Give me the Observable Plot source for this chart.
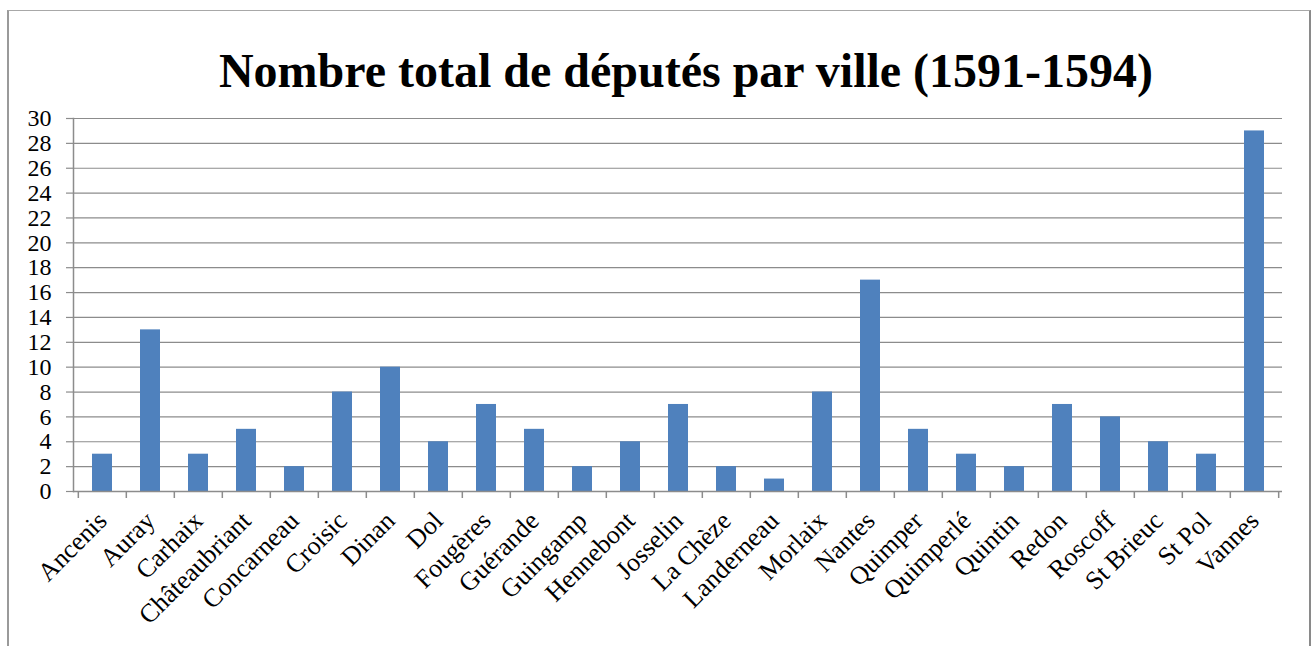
<!DOCTYPE html>
<html>
<head>
<meta charset="utf-8">
<script src="https://cdn.jsdelivr.net/npm/d3@7"></script>
<script src="https://cdn.jsdelivr.net/npm/@observablehq/plot@0.6"></script>
<style>
  html, body { margin: 0; padding: 0; background: #fff; overflow: hidden; width: 1312px; height: 646px; }
  #frame { position: absolute; left: 7px; top: 10px; width: 1300px; height: 700px;
           border-left: 2px solid #9a9a9a; border-top: 1px solid #a8a8a8; border-right: 2px solid #8a8a8a; }
  #title { position: absolute; left: 30px; width: 1312px; top: 47px; text-align: center;
           font-family: "Liberation Serif", "Times New Roman", serif; font-weight: bold; font-size: 48px; line-height: 48px; color: #000; }
  #chart { position: absolute; left: 0; top: 0; }
  #chart svg, #chart svg text { font-family: "Liberation Serif", "Times New Roman", serif !important; }
</style>
</head>
<body>
<div id="frame"></div>
<div id="title">Nombre total de députés par ville (1591-1594)</div>
<div id="chart"></div>
<script>
const cities = ["Ancenis","Auray","Carhaix","Châteaubriant","Concarneau","Croisic","Dinan","Dol","Fougères","Guérande","Guingamp","Hennebont","Josselin","La Chèze","Landerneau","Morlaix","Nantes","Quimper","Quimperlé","Quintin","Redon","Roscoff","St Brieuc","St Pol","Vannes"];
const deputes = [3,13,3,5,2,8,10,4,7,5,2,4,7,2,1,8,17,5,3,2,7,6,4,3,29];
const yTicks = [0,2,4,6,8,10,12,14,16,18,20,22,24,26,28,30];

const data = cities.map((c, i) => ({ville: c, n: deputes[i]}));

const W = 1312, H = 646;
const mL = 73, mR = 30, mT = 118, mB = 155;
const step = (W - mL - mR) / cities.length;
const gray = "#8c8c8c";
const font = "Liberation Serif";

const chart = Plot.plot({
  width: W, height: H,
  marginLeft: mL, marginRight: mR, marginTop: mT, marginBottom: mB,
  style: { fontFamily: "'Liberation Serif', serif", background: "transparent", color: "#000" },
  x: { domain: cities, padding: 0 },
  y: { domain: [0, 30] },
  marks: [
    Plot.gridY(yTicks, { stroke: gray, strokeOpacity: 1, strokeWidth: 1.2 }),
    Plot.axisY(yTicks, { tickSize: 7, tickPadding: 15, stroke: gray, strokeWidth: 1.2, fontSize: 24, fontFamily: font, fill: "#000", label: null }),
    Plot.barY(data, { x: "ville", y: "n", fill: "#4F81BD", insetLeft: 14, insetRight: 14 }),
    Plot.ruleY([0], { stroke: gray, strokeWidth: 1.5 }),
    Plot.frame({ anchor: "left", stroke: gray, strokeWidth: 1.5 }),
    Plot.axisX({ tickSize: 7, text: null, dx: -step / 2, stroke: gray, strokeWidth: 1.5, label: null }),
    Plot.axisX([cities[cities.length - 1]], { tickSize: 7, text: null, dx: step / 2, stroke: gray, strokeWidth: 1.5, label: null }),
    Plot.text(cities, { x: d => d, text: d => d, frameAnchor: "bottom", dy: 25, rotate: -45,
      textAnchor: "end", lineAnchor: "middle", fontSize: 26, fontFamily: font, fill: "#000" })
  ]
});
document.getElementById("chart").appendChild(chart);
</script>
</body>
</html>
